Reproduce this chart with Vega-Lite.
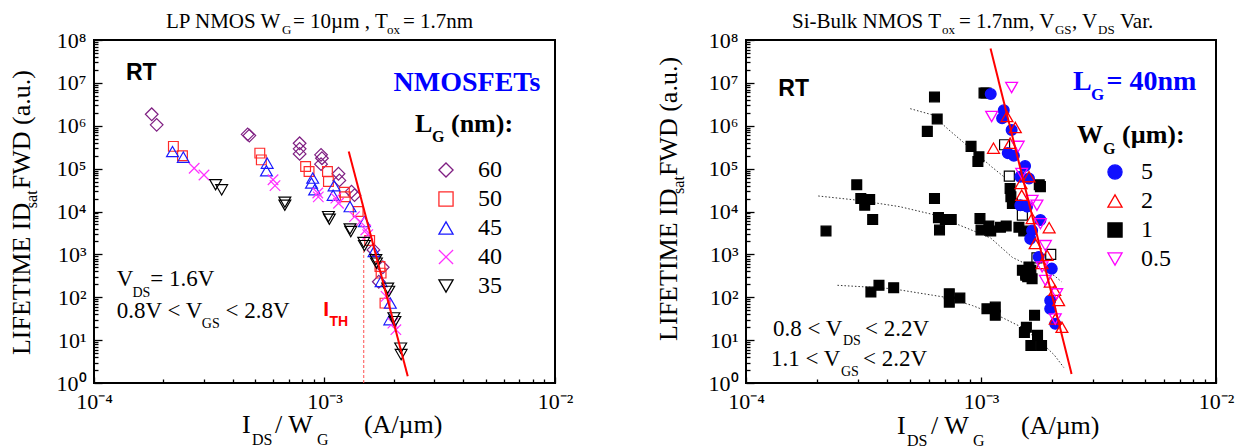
{
  "$schema": "https://vega.github.io/schema/vega-lite/v6.json",
  "background": "white",
  "padding": {"left": 7, "top": 9, "right": 0, "bottom": 0},
  "config": {
    "view": {"stroke": "black", "strokeWidth": 2},
    "axis": {"domain": false, "grid": false, "labelFont": "Liberation Serif"},
    "legend": {"labelFont": "Liberation Serif"}
  },
  "resolve": {
    "scale": {"color": "independent", "shape": "independent", "size": "independent", "fill": "independent", "stroke": "independent"},
    "legend": {"color": "independent", "shape": "independent", "size": "independent", "fill": "independent", "stroke": "independent"}
  },
  "datasets": {
    "left": [
      {"LG":"60","x":1.78e-4,"y":1.85e6},{"LG":"60","x":1.87e-4,"y":1.05e6},{"LG":"60","x":4.64e-4,"y":6.3e5},{"LG":"60","x":4.72e-4,"y":5.9e5},
      {"LG":"60","x":7.8e-4,"y":3.9e5},{"LG":"60","x":7.8e-4,"y":2.9e5},{"LG":"60","x":7.8e-4,"y":2.2e5},{"LG":"60","x":9.66e-4,"y":2.1e5},
      {"LG":"60","x":9.75e-4,"y":1.75e5},{"LG":"60","x":9.66e-4,"y":1.27e5},{"LG":"60","x":1.15e-3,"y":7.6e4},{"LG":"60","x":1.16e-3,"y":5.3e4},
      {"LG":"60","x":1.31e-3,"y":2.9e4},{"LG":"60","x":1.35e-3,"y":2.4e4},{"LG":"60","x":1.63e-3,"y":1270},{"LG":"60","x":1.79e-3,"y":500},{"LG":"60","x":1.72e-3,"y":230},
      {"LG":"50","x":2.21e-4,"y":3.3e5},{"LG":"50","x":2.42e-4,"y":2.0e5},{"LG":"50","x":5.24e-4,"y":2.3e5},{"LG":"50","x":5.32e-4,"y":1.6e5},
      {"LG":"50","x":8.28e-4,"y":1.12e5},{"LG":"50","x":8.57e-4,"y":8.6e4},{"LG":"50","x":1.03e-3,"y":8.6e4},{"LG":"50","x":1.04e-3,"y":5.0e4},
      {"LG":"50","x":1.22e-3,"y":2.8e4},{"LG":"50","x":1.23e-3,"y":2.2e4},{"LG":"50","x":1.40e-3,"y":1.0e4},{"LG":"50","x":1.57e-3,"y":2100},
      {"LG":"50","x":1.74e-3,"y":520},{"LG":"50","x":1.76e-3,"y":365},{"LG":"50","x":1.83e-3,"y":73},
      {"LG":"45","x":2.19e-4,"y":2.5e5},{"LG":"45","x":2.44e-4,"y":1.85e5},{"LG":"45","x":5.64e-4,"y":1.34e5},{"LG":"45","x":5.6e-4,"y":8.9e4},
      {"LG":"45","x":8.89e-4,"y":6.0e4},{"LG":"45","x":8.78e-4,"y":4.6e4},{"LG":"45","x":9.06e-4,"y":3.2e4},{"LG":"45","x":1.10e-3,"y":4.0e4},
      {"LG":"45","x":1.09e-3,"y":2.4e4},{"LG":"45","x":1.29e-3,"y":1.3e4},{"LG":"45","x":1.49e-3,"y":5800},{"LG":"45","x":1.64e-3,"y":1170},
      {"LG":"45","x":1.76e-3,"y":234},{"LG":"45","x":1.93e-3,"y":73},{"LG":"45","x":1.92e-3,"y":30},
      {"LG":"40","x":2.72e-4,"y":1.02e5},{"LG":"40","x":3.0e-4,"y":7.1e4},{"LG":"40","x":5.98e-4,"y":5.5e4},{"LG":"40","x":6.1e-4,"y":4.0e4},
      {"LG":"40","x":9.35e-4,"y":2.7e4},{"LG":"40","x":9.4e-4,"y":2.2e4},{"LG":"40","x":1.12e-3,"y":2.05e4},{"LG":"40","x":1.15e-3,"y":1.56e4},
      {"LG":"40","x":1.35e-3,"y":7600},{"LG":"40","x":1.43e-3,"y":5800},{"LG":"40","x":1.51e-3,"y":3700},{"LG":"40","x":1.54e-3,"y":2900},
      {"LG":"40","x":1.85e-3,"y":105},{"LG":"40","x":2.04e-3,"y":17.5},{"LG":"40","x":1.98e-3,"y":25},
      {"LG":"35","x":3.37e-4,"y":4.2e4},{"LG":"35","x":3.58e-4,"y":3.2e4},{"LG":"35","x":6.73e-4,"y":1.65e4},{"LG":"35","x":6.73e-4,"y":1.4e4},
      {"LG":"35","x":1.04e-3,"y":7600},{"LG":"35","x":1.05e-3,"y":6600},{"LG":"35","x":1.29e-3,"y":3900},{"LG":"35","x":1.30e-3,"y":3400},
      {"LG":"35","x":1.48e-3,"y":1900},{"LG":"35","x":1.49e-3,"y":1600},{"LG":"35","x":1.67e-3,"y":750},{"LG":"35","x":1.68e-3,"y":625},
      {"LG":"35","x":1.88e-3,"y":163},{"LG":"35","x":1.90e-3,"y":137},{"LG":"35","x":2.0e-3,"y":33},{"LG":"35","x":2.02e-3,"y":27},
      {"LG":"35","x":2.14e-3,"y":6.5},{"LG":"35","x":2.15e-3,"y":4.6}
    ],
    "right": [
      {"WG":"1","x":2.19e-4,"y":3500},{"WG":"1","x":2.96e-4,"y":4.2e4},{"WG":"1","x":3.08e-4,"y":2.0e4},{"WG":"1","x":3.20e-4,"y":1.4e4},
      {"WG":"1","x":3.36e-4,"y":1.9e4},{"WG":"1","x":3.46e-4,"y":6500},{"WG":"1","x":3.40e-4,"y":132},{"WG":"1","x":3.68e-4,"y":190},
      {"WG":"1","x":4.25e-4,"y":167},{"WG":"1","x":5.91e-4,"y":7.4e5},{"WG":"1","x":6.34e-4,"y":4.7e6},{"WG":"1","x":6.51e-4,"y":1.44e6},
      {"WG":"1","x":6.34e-4,"y":2.0e4},{"WG":"1","x":6.59e-4,"y":7200},{"WG":"1","x":6.66e-4,"y":3700},{"WG":"1","x":7.05e-4,"y":6500},
      {"WG":"1","x":7.47e-4,"y":6500},{"WG":"1","x":7.33e-4,"y":121},{"WG":"1","x":7.33e-4,"y":77},{"WG":"1","x":8.13e-4,"y":96},
      {"WG":"1","x":9.07e-4,"y":3.3e5},{"WG":"1","x":9.7e-4,"y":1.47e5},{"WG":"1","x":9.8e-4,"y":1.9e5},{"WG":"1","x":9.9e-4,"y":6900},
      {"WG":"1","x":1.0e-3,"y":3700},{"WG":"1","x":1.03e-3,"y":5.8e6},{"WG":"1","x":1.05e-3,"y":5.8e6},{"WG":"1","x":1.06e-3,"y":54},
      {"WG":"1","x":1.08e-3,"y":4600},{"WG":"1","x":1.10e-3,"y":3500},{"WG":"1","x":1.15e-3,"y":59},{"WG":"1","x":1.15e-3,"y":38},
      {"WG":"1","x":1.21e-3,"y":4300},{"WG":"1","x":1.28e-3,"y":4600},{"WG":"1","x":1.33e-3,"y":3.45e4},{"WG":"1","x":1.34e-3,"y":2.2e4},
      {"WG":"1","x":1.36e-3,"y":1.54e4},{"WG":"1","x":1.45e-3,"y":4300},{"WG":"1","x":1.52e-3,"y":3500},{"WG":"1","x":1.53e-3,"y":15},
      {"WG":"1","x":1.56e-3,"y":20},{"WG":"1","x":1.63e-3,"y":7.5},{"WG":"1","x":1.69e-3,"y":38},{"WG":"1","x":1.74e-3,"y":13},
      {"WG":"1","x":1.81e-3,"y":7.5},{"WG":"1","x":1.77e-3,"y":4.2e4},{"WG":"1","x":1.79e-3,"y":3.8e4},{"WG":"1","x":1.50e-3,"y":425},
      {"WG":"1","x":1.55e-3,"y":325},{"WG":"1","x":1.60e-3,"y":510},{"WG":"1","x":1.55e-3,"y":355},{"WG":"1","x":1.65e-3,"y":270},
      {"WG":"1","x":1.63e-3,"y":425},{"WG":"1","x":1.58e-3,"y":300},
      {"WG":"5","x":1.10e-3,"y":5.5e6},{"WG":"5","x":1.25e-3,"y":2.3e6},{"WG":"5","x":1.23e-3,"y":1.5e6},{"WG":"5","x":1.35e-3,"y":8.0e5},
      {"WG":"5","x":1.30e-3,"y":2.3e5},{"WG":"5","x":1.38e-3,"y":2.0e5},{"WG":"5","x":1.54e-3,"y":1.15e5},{"WG":"5","x":1.47e-3,"y":6.5e4},
      {"WG":"5","x":1.60e-3,"y":5.9e4},{"WG":"5","x":1.47e-3,"y":1.4e4},{"WG":"5","x":1.57e-3,"y":1.3e4},{"WG":"5","x":1.79e-3,"y":6300},
      {"WG":"5","x":1.65e-3,"y":3600},{"WG":"5","x":1.62e-3,"y":2300},{"WG":"5","x":1.76e-3,"y":870},{"WG":"5","x":2.0e-3,"y":465},
      {"WG":"5","x":1.97e-3,"y":84},{"WG":"5","x":1.97e-3,"y":54},{"WG":"5","x":2.07e-3,"y":24},
      {"WG":"2","x":1.29e-3,"y":1.64e6},{"WG":"2","x":1.40e-3,"y":9.1e5},{"WG":"2","x":1.13e-3,"y":3.0e5},{"WG":"2","x":1.33e-3,"y":3.9e5},
      {"WG":"2","x":1.60e-3,"y":6.5e4},{"WG":"2","x":1.48e-3,"y":4.5e4},{"WG":"2","x":1.49e-3,"y":2.4e4},{"WG":"2","x":1.65e-3,"y":6900},
      {"WG":"2","x":1.95e-3,"y":4200},{"WG":"2","x":1.70e-3,"y":1800},{"WG":"2","x":1.91e-3,"y":950},{"WG":"2","x":1.82e-3,"y":610},
      {"WG":"2","x":1.97e-3,"y":226},{"WG":"2","x":2.06e-3,"y":145},{"WG":"2","x":2.14e-3,"y":84},{"WG":"2","x":2.07e-3,"y":31},{"WG":"2","x":2.21e-3,"y":20},
      {"WG":"0.5","x":1.35e-3,"y":7.8e6},{"WG":"0.5","x":1.11e-3,"y":1.64e6},{"WG":"0.5","x":1.44e-3,"y":3.3e5},{"WG":"0.5","x":1.49e-3,"y":7.7e4},
      {"WG":"0.5","x":1.65e-3,"y":1.8e4},{"WG":"0.5","x":1.73e-3,"y":1.4e4},{"WG":"0.5","x":1.79e-3,"y":5200},{"WG":"0.5","x":1.88e-3,"y":1600},
      {"WG":"0.5","x":1.82e-3,"y":510},{"WG":"0.5","x":1.88e-3,"y":247},{"WG":"0.5","x":2.10e-3,"y":120},{"WG":"0.5","x":2.07e-3,"y":31}
    ],
    "rightOpen": [
      {"x":1.26e-3,"y":3.6e5},{"x":1.32e-3,"y":6.7e4},{"x":1.50e-3,"y":8200},{"x":1.73e-3,"y":830},{"x":1.98e-3,"y":1000}
    ],
    "fitL": [{"x":1.274e-3,"y":2.5e5},{"x":2.297e-3,"y":1.43}],
    "fitR": [{"x":1.098e-3,"y":6.3e7},{"x":2.429e-3,"y":1.62}],
    "ithL": [{"x":1.48e-3,"y":1},{"x":1.48e-3,"y":1300}],
    "curves": [
      {"c":1,"x":5.0e-4,"y":2.5e6},{"c":1,"x":6.2e-4,"y":1.8e6},{"c":1,"x":7.3e-4,"y":8e5},{"c":1,"x":9.0e-4,"y":3e5},{"c":1,"x":1.11e-3,"y":1.1e5},{"c":1,"x":1.25e-3,"y":6.5e4},
      {"c":2,"x":2.03e-4,"y":2.3e4},{"c":2,"x":2.97e-4,"y":1.84e4},{"c":2,"x":4.5e-4,"y":1.3e4},{"c":2,"x":6.2e-4,"y":8600},{"c":2,"x":7.5e-4,"y":5700},
      {"c":2,"x":9.0e-4,"y":3800},{"c":2,"x":1.1e-3,"y":2400},{"c":2,"x":1.36e-3,"y":850},{"c":2,"x":1.55e-3,"y":600},{"c":2,"x":1.85e-3,"y":420},
      {"c":2,"x":2.05e-3,"y":320},{"c":2,"x":2.2e-3,"y":230},
      {"c":3,"x":2.45e-4,"y":190},{"c":3,"x":3.3e-4,"y":173},{"c":3,"x":4.2e-4,"y":158},{"c":3,"x":6.2e-4,"y":112},{"c":3,"x":7.05e-4,"y":100},
      {"c":3,"x":9.2e-4,"y":64},{"c":3,"x":1.2e-3,"y":36},{"c":3,"x":1.49e-3,"y":20},{"c":3,"x":1.8e-3,"y":9},{"c":3,"x":2.05e-3,"y":4.5},{"c":3,"x":2.25e-3,"y":2.3}
    ],
    "notes": [
      {"p":"L","g":"plain","r":"title","t":"LP NMOS W","x":2.053e-4,"y":1.874e8},
      {"p":"L","g":"plain","r":"tsub","t":"G","x":6.5418e-4,"y":1.358e8},
      {"p":"L","g":"plain","r":"title","t":"= 10µm , T","x":7.301e-4,"y":1.874e8},
      {"p":"L","g":"plain","r":"tsub","t":"ox","x":1.8673e-3,"y":1.358e8},
      {"p":"L","g":"plain","r":"title","t":"= 1.7nm","x":2.1904e-3,"y":1.874e8},
      {"p":"L","g":"plain","r":"axis","t":"I","x":4.385e-4,"y":0.0679},
      {"p":"L","g":"plain","r":"asub","t":"DS","x":4.847e-4,"y":0.03567},
      {"p":"L","g":"plain","r":"axis","t":"/ W","x":6.098e-4,"y":0.0679},
      {"p":"L","g":"plain","r":"asub","t":"G","x":9.28e-4,"y":0.03567},
      {"p":"L","g":"plain","r":"axis","t":"(A/µm)","x":1.483e-3,"y":0.0679},
      {"p":"L","g":"plain","r":"note","t":"V","x":1.2545e-4,"y":178.5},
      {"p":"L","g":"plain","r":"nsub","t":"DS","x":1.469e-4,"y":100.5},
      {"p":"L","g":"plain","r":"note","t":"= 1.6V","x":1.7544e-4,"y":178.5},
      {"p":"L","g":"plain","r":"note","t":"0.8V < V","x":1.2545e-4,"y":32.57},
      {"p":"L","g":"plain","r":"nsub","t":"GS","x":2.9357e-4,"y":19.05},
      {"p":"L","g":"plain","r":"note","t":"< 2.8V","x":3.7197e-4,"y":32.57},
      {"p":"L","g":"rot","r":"axis","t":"LIFETIME ID","x":5.276e-5,"y":4.47},
      {"p":"L","g":"rot","r":"asub","t":"sat","x":5.658e-5,"y":1.194e4},
      {"p":"L","g":"rot","r":"axis","t":"FWD (a.u.)","x":5.276e-5,"y":3.31e4},
      {"p":"L","g":"boldk","r":"leg","t":"L","x":2.47e-3,"y":7.32e5},
      {"p":"L","g":"boldk","r":"lsub","t":"G","x":2.926e-3,"y":4.125e5},
      {"p":"L","g":"boldk","r":"leg","t":"(nm):","x":3.538e-3,"y":7.32e5},
      {"p":"L","g":"boldb","r":"head","t":"NMOSFETs","x":1.994e-3,"y":6.615e6},
      {"p":"L","g":"rt","r":"rt","t":"RT","x":1.3765e-4,"y":1.168e7},
      {"p":"L","g":"ith","r":"ith","t":"I","x":9.87e-4,"y":35.68},
      {"p":"L","g":"ith","r":"isub","t":"TH","x":1.0512e-3,"y":20.86},
      {"p":"R","g":"plain","r":"title","t":"Si-Bulk NMOS T","x":1.5692e-4,"y":1.909e8},
      {"p":"R","g":"plain","r":"tsub","t":"ox","x":6.8245e-4,"y":1.381e8},
      {"p":"R","g":"plain","r":"title","t":"= 1.7nm, V","x":8.06e-4,"y":1.909e8},
      {"p":"R","g":"plain","r":"tsub","t":"GS","x":2.0644e-3,"y":1.381e8},
      {"p":"R","g":"plain","r":"title","t":", V","x":2.4391e-3,"y":1.909e8},
      {"p":"R","g":"plain","r":"tsub","t":"DS","x":3.1466e-3,"y":1.381e8},
      {"p":"R","g":"plain","r":"title","t":"Var.","x":3.9036e-3,"y":1.909e8},
      {"p":"R","g":"plain","r":"axis","t":"I","x":4.39e-4,"y":0.06412},
      {"p":"R","g":"plain","r":"asub","t":"DS","x":4.843e-4,"y":0.03359},
      {"p":"R","g":"plain","r":"axis","t":"/ W","x":6.126e-4,"y":0.06412},
      {"p":"R","g":"plain","r":"asub","t":"G","x":9.247e-4,"y":0.03359},
      {"p":"R","g":"plain","r":"axis","t":"(A/µm)","x":1.4796e-3,"y":0.06412},
      {"p":"R","g":"plain","r":"note","t":"0.8 < V","x":1.3026e-4,"y":12.78},
      {"p":"R","g":"plain","r":"nsub","t":"DS","x":2.587e-4,"y":7.743},
      {"p":"R","g":"plain","r":"note","t":"< 2.2V","x":3.2093e-4,"y":12.78},
      {"p":"R","g":"plain","r":"note","t":"1.1 < V","x":1.2775e-4,"y":2.539},
      {"p":"R","g":"plain","r":"nsub","t":"GS","x":2.5367e-4,"y":1.482},
      {"p":"R","g":"plain","r":"note","t":"< 2.2V","x":3.1471e-4,"y":2.539},
      {"p":"R","g":"rot","r":"axis","t":"LIFETIME ID","x":5.086e-5,"y":9.6},
      {"p":"R","g":"rot","r":"asub","t":"sat","x":5.448e-5,"y":2.567e4},
      {"p":"R","g":"rot","r":"axis","t":"FWD (a.u.)","x":5.086e-5,"y":6.695e4},
      {"p":"R","g":"boldk","r":"leg","t":"W","x":2.5618e-3,"y":3.896e5},
      {"p":"R","g":"boldk","r":"lsub","t":"G","x":3.3037e-3,"y":2.154e5},
      {"p":"R","g":"boldk","r":"leg","t":"(µm):","x":3.981e-3,"y":3.896e5},
      {"p":"R","g":"boldb","r":"head","t":"L","x":2.4634e-3,"y":6.877e6},
      {"p":"R","g":"boldb","r":"hsub","t":"G","x":2.938e-3,"y":4.013e6},
      {"p":"R","g":"boldb","r":"head","t":"= 40nm","x":3.4215e-3,"y":6.877e6},
      {"p":"R","g":"rt","r":"rt","t":"RT","x":1.372e-4,"y":4.82e6}
    ]
  },
  "hconcat": [
    {
      "width": 461,
      "height": 343,
      "resolve": {"scale": {"size": "independent"}},
      "encoding": {
        "x": {"field": "x", "type": "quantitative",
          "scale": {"type": "log", "domain": [0.0001, 0.01], "nice": false},
          "axis": {"title": null,
            "values": [0.0001,0.0002,0.0003,0.0004,0.0005,0.0006,0.0007,0.0008,0.0009,0.001,0.002,0.003,0.004,0.005,0.006,0.007,0.008,0.009,0.01],
            "labelExpr": "abs(log(datum.value)/LN10 - round(log(datum.value)/LN10)) < 0.001 ? '10' + ['⁻⁴','⁻³','⁻²'][round(log(datum.value)/LN10) + 4] : ''",
            "labelFont": "Liberation Serif", "labelFontSize": 22, "labelColor": "black", "labelPadding": 14,
            "labelOverlap": false, "labelFlush": false, "labelBound": false,
            "tickColor": "black", "tickWidth": 1.3,
            "tickSize": {"condition": {"test": "abs(log(datum.value)/LN10 - round(log(datum.value)/LN10)) < 0.001", "value": -6}, "value": -4}}},
        "y": {"field": "y", "type": "quantitative",
          "scale": {"type": "log", "domain": [1, 100000000], "nice": false},
          "axis": {"title": null,
            "values": [1,2,3,4,5,6,7,8,9,10,20,30,40,50,60,70,80,90,100,200,300,400,500,600,700,800,900,1000,2000,3000,4000,5000,6000,7000,8000,9000,10000,20000,30000,40000,50000,60000,70000,80000,90000,100000,200000,300000,400000,500000,600000,700000,800000,900000,1000000,2000000,3000000,4000000,5000000,6000000,7000000,8000000,9000000,10000000,20000000,30000000,40000000,50000000,60000000,70000000,80000000,90000000,100000000],
            "labelExpr": "abs(log(datum.value)/LN10 - round(log(datum.value)/LN10)) < 0.001 ? '10' + ['⁰','¹','²','³','⁴','⁵','⁶','⁷','⁸'][round(log(datum.value)/LN10)] : ''",
            "labelFont": "Liberation Serif", "labelFontSize": 22, "labelColor": "black", "labelPadding": 16,
            "labelOverlap": false, "labelFlush": false, "labelBound": false,
            "tickColor": "black", "tickWidth": 1.3,
            "tickSize": {"condition": {"test": "abs(log(datum.value)/LN10 - round(log(datum.value)/LN10)) < 0.001", "value": -8}, "value": -4}}}
      },
      "layer": [
        {"data": {"name": "ithL"}, "mark": {"type": "line", "color": "#ff5050", "strokeWidth": 1, "strokeDash": [3, 2]}, "encoding": {}},
        {"data": {"name": "left"},
          "mark": {"type": "point", "filled": false, "strokeWidth": 1.2, "opacity": 1},
          "encoding": {
            "color": {"field": "LG", "type": "nominal",
              "scale": {"domain": ["60","50","45","40","35"], "range": ["#7f1f82","#ff2a2a","#1a1aff","#ff30ff","#000000"]},
              "legend": {"title": null, "orient": "none", "legendX": 340, "legendY": 118, "direction": "vertical", "labelFont": "Liberation Serif", "labelFontSize": 24, "labelColor": "black", "symbolSize": 200, "symbolStrokeWidth": 1.3, "rowPadding": 5, "labelOffset": 20, "padding": 0}},
            "shape": {"field": "LG", "type": "nominal",
              "scale": {"domain": ["60","50","45","40","35"], "range": ["diamond","square","triangle-up","M-1,-1L1,1M-1,1L1,-1","triangle-down"]},
              "legend": {"title": null, "orient": "none", "legendX": 340, "legendY": 118, "direction": "vertical", "labelFont": "Liberation Serif", "labelFontSize": 24, "labelColor": "black", "symbolSize": 200, "symbolStrokeWidth": 1.3, "rowPadding": 5, "labelOffset": 20, "padding": 0}},
            "size": {"field": "LG", "type": "nominal",
              "scale": {"type": "ordinal", "domain": ["60","50","45","40","35"], "range": [160, 95, 140, 110, 140]}, "legend": null}
          }},
        {"data": {"name": "fitL"}, "mark": {"type": "line", "color": "#ff0000", "strokeWidth": 2}, "encoding": {}},
        {"data": {"name": "notes"}, "transform": [{"filter": "datum.p == 'L' && datum.g == 'plain'"}],
          "mark": {"type": "text", "font": "Liberation Serif", "align": "left", "baseline": "alphabetic", "color": "black"},
          "encoding": {"text": {"field": "t"}, "size": {"field": "r", "type": "ordinal", "legend": null,
            "scale": {"type": "ordinal", "domain": ["title","tsub","axis","asub","note","nsub","head","hsub","leg","lsub","rt","ith","isub"], "range": [21,13,26,16,23,14,28,17,26,16,23,21,14]}}}},
        {"data": {"name": "notes"}, "transform": [{"filter": "datum.p == 'L' && datum.g == 'rot'"}],
          "mark": {"type": "text", "font": "Liberation Serif", "align": "left", "baseline": "alphabetic", "color": "black", "angle": 270},
          "encoding": {"text": {"field": "t"}, "size": {"field": "r", "type": "ordinal", "legend": null,
            "scale": {"type": "ordinal", "domain": ["title","tsub","axis","asub","note","nsub","head","hsub","leg","lsub","rt","ith","isub"], "range": [21,13,26,16,23,14,28,17,26,16,23,21,14]}}}},
        {"data": {"name": "notes"}, "transform": [{"filter": "datum.p == 'L' && datum.g == 'boldk'"}],
          "mark": {"type": "text", "font": "Liberation Serif", "fontWeight": "bold", "align": "left", "baseline": "alphabetic", "color": "black"},
          "encoding": {"text": {"field": "t"}, "size": {"field": "r", "type": "ordinal", "legend": null,
            "scale": {"type": "ordinal", "domain": ["title","tsub","axis","asub","note","nsub","head","hsub","leg","lsub","rt","ith","isub"], "range": [21,13,26,16,23,14,28,17,26,16,23,21,14]}}}},
        {"data": {"name": "notes"}, "transform": [{"filter": "datum.p == 'L' && datum.g == 'boldb'"}],
          "mark": {"type": "text", "font": "Liberation Serif", "fontWeight": "bold", "align": "left", "baseline": "alphabetic", "color": "#0000ff"},
          "encoding": {"text": {"field": "t"}, "size": {"field": "r", "type": "ordinal", "legend": null,
            "scale": {"type": "ordinal", "domain": ["title","tsub","axis","asub","note","nsub","head","hsub","leg","lsub","rt","ith","isub"], "range": [21,13,26,16,23,14,28,17,26,16,23,21,14]}}}},
        {"data": {"name": "notes"}, "transform": [{"filter": "datum.p == 'L' && datum.g == 'rt'"}],
          "mark": {"type": "text", "font": "Liberation Sans", "fontWeight": "bold", "align": "left", "baseline": "alphabetic", "color": "black"},
          "encoding": {"text": {"field": "t"}, "size": {"field": "r", "type": "ordinal", "legend": null,
            "scale": {"type": "ordinal", "domain": ["title","tsub","axis","asub","note","nsub","head","hsub","leg","lsub","rt","ith","isub"], "range": [21,13,26,16,23,14,28,17,26,16,23,21,14]}}}},
        {"data": {"name": "notes"}, "transform": [{"filter": "datum.p == 'L' && datum.g == 'ith'"}],
          "mark": {"type": "text", "font": "Liberation Sans", "fontWeight": "bold", "align": "left", "baseline": "alphabetic", "color": "#ff0000"},
          "encoding": {"text": {"field": "t"}, "size": {"field": "r", "type": "ordinal", "legend": null,
            "scale": {"type": "ordinal", "domain": ["title","tsub","axis","asub","note","nsub","head","hsub","leg","lsub","rt","ith","isub"], "range": [21,13,26,16,23,14,28,17,26,16,23,21,14]}}}}
      ]
    },
    {
      "width": 470,
      "height": 343,
      "resolve": {"scale": {"size": "independent"}},
      "encoding": {
        "x": {"field": "x", "type": "quantitative",
          "scale": {"type": "log", "domain": [0.0001, 0.01], "nice": false},
          "axis": {"title": null,
            "values": [0.0001,0.0002,0.0003,0.0004,0.0005,0.0006,0.0007,0.0008,0.0009,0.001,0.002,0.003,0.004,0.005,0.006,0.007,0.008,0.009,0.01],
            "labelExpr": "abs(log(datum.value)/LN10 - round(log(datum.value)/LN10)) < 0.001 ? '10' + ['⁻⁴','⁻³','⁻²'][round(log(datum.value)/LN10) + 4] : ''",
            "labelFont": "Liberation Serif", "labelFontSize": 22, "labelColor": "black", "labelPadding": 14,
            "labelOverlap": false, "labelFlush": false, "labelBound": false,
            "tickColor": "black", "tickWidth": 1.3,
            "tickSize": {"condition": {"test": "abs(log(datum.value)/LN10 - round(log(datum.value)/LN10)) < 0.001", "value": -6}, "value": -4}}},
        "y": {"field": "y", "type": "quantitative",
          "scale": {"type": "log", "domain": [1, 100000000], "nice": false},
          "axis": {"title": null,
            "values": [1,2,3,4,5,6,7,8,9,10,20,30,40,50,60,70,80,90,100,200,300,400,500,600,700,800,900,1000,2000,3000,4000,5000,6000,7000,8000,9000,10000,20000,30000,40000,50000,60000,70000,80000,90000,100000,200000,300000,400000,500000,600000,700000,800000,900000,1000000,2000000,3000000,4000000,5000000,6000000,7000000,8000000,9000000,10000000,20000000,30000000,40000000,50000000,60000000,70000000,80000000,90000000,100000000],
            "labelExpr": "abs(log(datum.value)/LN10 - round(log(datum.value)/LN10)) < 0.001 ? '10' + ['⁰','¹','²','³','⁴','⁵','⁶','⁷','⁸'][round(log(datum.value)/LN10)] : ''",
            "labelFont": "Liberation Serif", "labelFontSize": 22, "labelColor": "black", "labelPadding": 16,
            "labelOverlap": false, "labelFlush": false, "labelBound": false,
            "tickColor": "black", "tickWidth": 1.3,
            "tickSize": {"condition": {"test": "abs(log(datum.value)/LN10 - round(log(datum.value)/LN10)) < 0.001", "value": -8}, "value": -4}}}
      },
      "layer": [
        {"data": {"name": "curves"}, "mark": {"type": "line", "color": "#333333", "strokeWidth": 1, "strokeDash": [1.5, 2]},
          "encoding": {"detail": {"field": "c", "type": "nominal"}}},
        {"data": {"name": "rightOpen"}, "mark": {"type": "point", "shape": "square", "filled": false, "color": "black", "strokeWidth": 1.2, "size": 100, "opacity": 1}, "encoding": {}},
        {"data": {"name": "right"},
          "mark": {"type": "point", "filled": true, "strokeWidth": 1.3, "opacity": 1},
          "encoding": {
            "fill": {"field": "WG", "type": "nominal",
              "scale": {"domain": ["5","2","1","0.5"], "range": ["#1010ff","transparent","#000000","transparent"]},
              "legend": {"title": null, "orient": "none", "legendX": 357, "legendY": 120, "direction": "vertical", "labelFont": "Liberation Serif", "labelFontSize": 24, "labelColor": "black", "symbolSize": 200, "symbolStrokeWidth": 1.3, "rowPadding": 5, "labelOffset": 14, "padding": 0}},
            "stroke": {"field": "WG", "type": "nominal",
              "scale": {"domain": ["5","2","1","0.5"], "range": ["#1010ff","#ff0000","#000000","#ff00ff"]},
              "legend": {"title": null, "orient": "none", "legendX": 357, "legendY": 120, "direction": "vertical", "labelFont": "Liberation Serif", "labelFontSize": 24, "labelColor": "black", "symbolSize": 200, "symbolStrokeWidth": 1.3, "rowPadding": 5, "labelOffset": 14, "padding": 0}},
            "shape": {"field": "WG", "type": "nominal",
              "scale": {"domain": ["5","2","1","0.5"], "range": ["circle","triangle-up","square","triangle-down"]},
              "legend": {"title": null, "orient": "none", "legendX": 357, "legendY": 120, "direction": "vertical", "labelFont": "Liberation Serif", "labelFontSize": 24, "labelColor": "black", "symbolSize": 200, "symbolStrokeWidth": 1.3, "rowPadding": 5, "labelOffset": 14, "padding": 0}},
            "size": {"field": "WG", "type": "nominal",
              "scale": {"type": "ordinal", "domain": ["5","2","1","0.5"], "range": [115, 140, 95, 140]}, "legend": null}
          }},
        {"data": {"name": "fitR"}, "mark": {"type": "line", "color": "#ff0000", "strokeWidth": 2}, "encoding": {}},
        {"data": {"name": "notes"}, "transform": [{"filter": "datum.p == 'R' && datum.g == 'plain'"}],
          "mark": {"type": "text", "font": "Liberation Serif", "align": "left", "baseline": "alphabetic", "color": "black"},
          "encoding": {"text": {"field": "t"}, "size": {"field": "r", "type": "ordinal", "legend": null,
            "scale": {"type": "ordinal", "domain": ["title","tsub","axis","asub","note","nsub","head","hsub","leg","lsub","rt","ith","isub"], "range": [21,13,26,16,23,14,28,17,26,16,23,21,14]}}}},
        {"data": {"name": "notes"}, "transform": [{"filter": "datum.p == 'R' && datum.g == 'rot'"}],
          "mark": {"type": "text", "font": "Liberation Serif", "align": "left", "baseline": "alphabetic", "color": "black", "angle": 270},
          "encoding": {"text": {"field": "t"}, "size": {"field": "r", "type": "ordinal", "legend": null,
            "scale": {"type": "ordinal", "domain": ["title","tsub","axis","asub","note","nsub","head","hsub","leg","lsub","rt","ith","isub"], "range": [21,13,26,16,23,14,28,17,26,16,23,21,14]}}}},
        {"data": {"name": "notes"}, "transform": [{"filter": "datum.p == 'R' && datum.g == 'boldk'"}],
          "mark": {"type": "text", "font": "Liberation Serif", "fontWeight": "bold", "align": "left", "baseline": "alphabetic", "color": "black"},
          "encoding": {"text": {"field": "t"}, "size": {"field": "r", "type": "ordinal", "legend": null,
            "scale": {"type": "ordinal", "domain": ["title","tsub","axis","asub","note","nsub","head","hsub","leg","lsub","rt","ith","isub"], "range": [21,13,26,16,23,14,28,17,26,16,23,21,14]}}}},
        {"data": {"name": "notes"}, "transform": [{"filter": "datum.p == 'R' && datum.g == 'boldb'"}],
          "mark": {"type": "text", "font": "Liberation Serif", "fontWeight": "bold", "align": "left", "baseline": "alphabetic", "color": "#0000ff"},
          "encoding": {"text": {"field": "t"}, "size": {"field": "r", "type": "ordinal", "legend": null,
            "scale": {"type": "ordinal", "domain": ["title","tsub","axis","asub","note","nsub","head","hsub","leg","lsub","rt","ith","isub"], "range": [21,13,26,16,23,14,28,17,26,16,23,21,14]}}}},
        {"data": {"name": "notes"}, "transform": [{"filter": "datum.p == 'R' && datum.g == 'rt'"}],
          "mark": {"type": "text", "font": "Liberation Sans", "fontWeight": "bold", "align": "left", "baseline": "alphabetic", "color": "black"},
          "encoding": {"text": {"field": "t"}, "size": {"field": "r", "type": "ordinal", "legend": null,
            "scale": {"type": "ordinal", "domain": ["title","tsub","axis","asub","note","nsub","head","hsub","leg","lsub","rt","ith","isub"], "range": [21,13,26,16,23,14,28,17,26,16,23,21,14]}}}}
      ]
    }
  ],
  "spacing": 191,
  "bounds": "flush"
}
